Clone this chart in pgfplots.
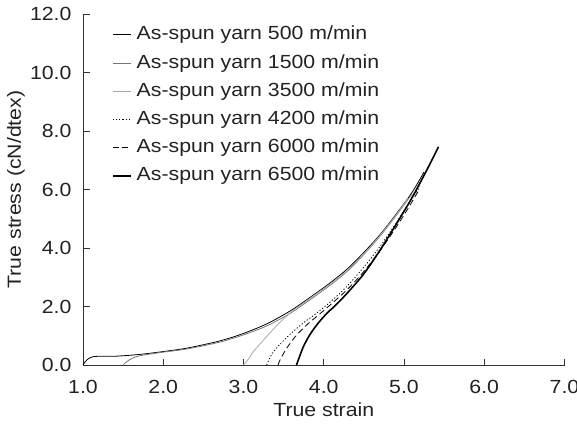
\documentclass[border=0pt]{standalone}
\usepackage{pgfplots}
\pgfplotsset{compat=1.18}
\usepackage{fontspec}
\setmainfont{Liberation Sans}[FakeStretch=1.12]
\definecolor{txt}{HTML}{222222}
\definecolor{ax}{HTML}{333333}
\definecolor{g1500}{HTML}{777777}
\definecolor{g3500}{HTML}{A8A8A8}
\begin{document}
\fontsize{19bp}{23bp}\selectfont
\begin{tikzpicture}
\begin{axis}[
  scale only axis,
  width=481.5bp, height=351bp,
  xmin=1, xmax=7, ymin=0, ymax=12,
  axis x line*=bottom, axis y line*=left,
  axis line style={ax, line width=0.8bp},
  xtick={1,2,...,7}, ytick={0,2,...,12},
  tick align=inside,
  major tick length=6.5bp,
  tick style={ax, line width=0.8bp},
  /pgf/number format/assume math mode=true,
  /pgf/number format/.cd, fixed, fixed zerofill, precision=1, /pgfplots/.cd,
  ticklabel style={font=\fontsize{19bp}{23bp}\selectfont, text=txt},
  yticklabel style={xshift=-5bp},
  xticklabel style={yshift=-9bp},
  xlabel={True strain},
  ylabel={True stress (cN/dtex)},
  label style={font=\fontsize{19bp}{23bp}\selectfont, text=txt},
  xlabel style={at={(axis description cs:0.5,0)}, anchor=center, yshift=-45bp},
  ylabel style={at={(axis description cs:0,0.5)}, anchor=center, yshift=67bp},
  clip=false,
  legend cell align=left,
  legend image code/.code={\draw[#1] (0bp,0bp) -- (18bp,0bp);},
  legend style={draw=none, fill=none, at={(axis cs:1.36,11.6)}, anchor=north west,
    inner sep=0pt, row sep=10.2bp, column sep=5bp,
    font=\fontsize{19bp}{23bp}\selectfont, text=txt,
    nodes={inner sep=0pt, text height=14bp, text depth=4bp}},
]
\addplot[black, line width=0.8bp, smooth] coordinates {
(1.0,0) (1.03,0.12) (1.07,0.22) (1.12,0.28) (1.2,0.3) (1.4,0.3) (1.7,0.36) (2.0,0.46) (2.3,0.58) (2.7,0.82) (3.0,1.08) (3.3,1.42) (3.6,1.88) (3.9,2.45) (4.1,2.85) (4.3,3.3) (4.5,3.85) (4.7,4.45) (4.9,5.15) (5.1,5.9) (5.25,6.6)};
\addlegendentry{As-spun yarn 500 m/min}
\addplot[g1500, line width=0.8bp, smooth] coordinates {
(1.5,0) (1.53,0.08) (1.58,0.18) (1.65,0.27) (1.75,0.34) (1.9,0.4) (2.0,0.44) (2.3,0.55) (2.7,0.78) (3.0,1.03) (3.3,1.35) (3.6,1.8) (3.9,2.37) (4.1,2.77) (4.3,3.22) (4.5,3.78) (4.7,4.4) (4.9,5.1) (5.1,5.85)};
\addlegendentry{As-spun yarn 1500 m/min}
\addplot[g3500, line width=0.8bp, smooth] coordinates {
(3.0,0) (3.06,0.2) (3.12,0.45) (3.2,0.7) (3.33,1.1) (3.45,1.45) (3.6,1.82) (3.75,2.12) (3.9,2.42) (4.1,2.8) (4.3,3.25) (4.5,3.8) (4.7,4.42) (4.9,5.12) (5.05,5.7)};
\addlegendentry{As-spun yarn 3500 m/min}
\addplot[black, line width=0.8bp, dash pattern=on 1.2bp off 2bp, smooth] coordinates {
(3.29,0) (3.32,0.2) (3.36,0.4) (3.45,0.7) (3.6,1.1) (3.75,1.45) (3.9,1.75) (4.1,2.2) (4.3,2.72) (4.5,3.35) (4.7,4.05) (4.9,4.85) (5.1,5.7) (5.2,6.1)};
\addlegendentry{As-spun yarn 4200 m/min}
\addplot[black, line width=0.8bp, dash pattern=on 6bp off 3.5bp, smooth] coordinates {
(3.43,0) (3.46,0.2) (3.5,0.4) (3.57,0.7) (3.67,1.05) (3.8,1.4) (3.93,1.7) (4.1,2.1) (4.3,2.6) (4.5,3.2) (4.7,3.9) (4.9,4.7) (5.05,5.35) (5.19,6.0)};
\addlegendentry{As-spun yarn 6000 m/min}
\addplot[black, line width=1.6bp, smooth] coordinates {
(3.66,0) (3.7,0.3) (3.75,0.65) (3.83,1.05) (3.93,1.43) (4.04,1.77) (4.15,2.05) (4.3,2.48) (4.5,3.12) (4.7,3.92) (4.9,4.8) (5.1,5.72) (5.3,6.75) (5.43,7.46)};
\addlegendentry{As-spun yarn 6500 m/min}
\coordinate (bl) at (rel axis cs:0,0);
\coordinate (tr) at (rel axis cs:1,1);
\end{axis}
\pgfresetboundingbox
\path[use as bounding box] ([shift={(-83bp,-69bp)}]bl) rectangle ([shift={(12.5bp,14bp)}]tr);
\end{tikzpicture}
\end{document}
